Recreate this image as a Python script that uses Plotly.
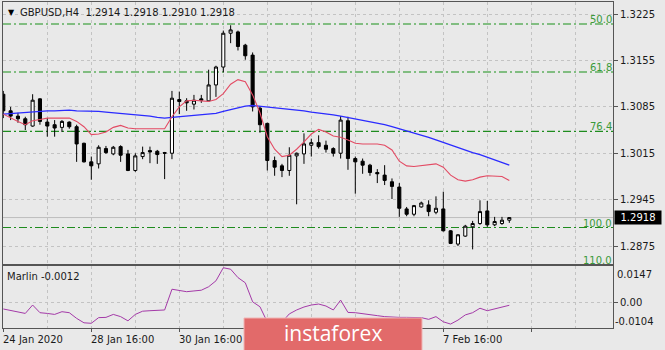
import plotly.graph_objects as go

# ---------------- data ----------------
bars = list(range(70))
opens = [1.3104,1.3079,1.3071,1.3067,1.3056,1.3097,1.3062,1.3058,1.3054,1.3062,
         1.3055,1.3030,1.3002,1.2999,1.3022,1.3014,1.3025,1.3014,1.2989,1.3010,
         1.3019,1.3018,1.3016,1.3015,1.3096,1.3094,1.3089,1.3097,1.3094,1.3118,
         1.3145,1.3196,1.3198,1.3178,1.3163,1.3083,1.3060,1.3004,1.2996,1.2989,
         1.3011,1.3014,1.3027,1.3031,1.3027,1.3022,1.3015,1.3064,1.3007,1.3003,
         1.2997,1.2986,1.2982,1.2972,1.2964,1.2931,1.2923,1.2934,1.2937,1.2926,
         1.2931,1.2898,1.2878,1.2890,1.2904,1.2909,1.2928,1.2907,1.2909,1.2914]
highs = [1.3109,1.3085,1.3076,1.3070,1.3104,1.3098,1.3068,1.3065,1.3065,1.3063,
         1.3058,1.3031,1.3010,1.3027,1.3026,1.3026,1.3027,1.3020,1.3015,1.3025,
         1.3025,1.3020,1.3017,1.3109,1.3108,1.3098,1.3103,1.3103,1.3141,1.3147,
         1.3200,1.3208,1.3200,1.3180,1.3167,1.3086,1.3061,1.3010,1.2999,1.3024,
         1.3016,1.3045,1.3037,1.3042,1.3034,1.3024,1.3071,1.3070,1.3010,1.3007,
         1.2999,1.2991,1.2997,1.2977,1.2970,1.2934,1.2937,1.2942,1.2944,1.2950,
         1.2957,1.2899,1.2893,1.2907,1.2913,1.2944,1.2943,1.2919,1.2919,1.2918]
lows = [1.3068,1.3065,1.3061,1.3050,1.3055,1.3058,1.3040,1.3040,1.3047,1.3052,
        1.3002,1.3001,1.2975,1.2992,1.3014,1.3012,1.3002,1.2988,1.2987,1.3006,
        1.3000,1.2999,1.2976,1.3006,1.3074,1.3079,1.3081,1.3091,1.3093,1.3100,
        1.3137,1.3181,1.3170,1.3156,1.3078,1.3046,1.2989,1.2981,1.2979,1.2981,
        1.2938,1.2999,1.3010,1.3022,1.3016,1.3010,1.3007,1.2990,1.2954,1.2984,
        1.2981,1.2970,1.2967,1.2946,1.2919,1.2920,1.2920,1.2933,1.2920,1.2923,
        1.2897,1.2878,1.2875,1.2889,1.2870,1.2907,1.2904,1.2905,1.2907,1.2910]
closes = [1.3079,1.3071,1.3067,1.3058,1.3095,1.3063,1.3056,1.3053,1.3063,1.3055,
          1.3029,1.3002,1.2996,1.3024,1.3016,1.3024,1.3012,1.2989,1.3011,1.3016,
          1.3017,1.3013,1.3015,1.3098,1.3093,1.3091,1.3095,1.3095,1.3118,1.3145,
          1.3196,1.3201,1.3176,1.3162,1.3085,1.3058,1.3004,1.2994,1.2989,1.3012,
          1.3015,1.3029,1.3031,1.3025,1.3021,1.3015,1.3065,1.3007,1.3002,1.2997,
          1.2986,1.2984,1.2974,1.2965,1.2932,1.2923,1.2936,1.2940,1.2927,1.2932,
          1.2898,1.2879,1.2892,1.2905,1.2909,1.2927,1.2907,1.2912,1.2914,1.2918]

ma_fast = [1.3074,1.3068,1.3063,1.3058,1.3064,1.3066,1.3068,1.3068,1.3068,1.3068,
           1.3063,1.3055,1.3043,1.3044,1.3047,1.3054,1.3057,1.3053,1.3052,1.3052,
           1.3052,1.3052,1.3052,1.3070,1.3085,1.3094,1.3095,1.3094,1.3093,1.3096,
           1.3105,1.3119,1.3126,1.3123,1.3103,1.3076,1.3040,1.3021,1.3010,1.3012,
           1.3021,1.3032,1.3044,1.3051,1.3047,1.3041,1.3039,1.3035,1.3030,1.3029,
           1.3029,1.3029,1.3027,1.3020,1.3003,1.2996,1.2995,1.2996,1.2998,1.2999,
           1.2994,1.2982,1.2975,1.2973,1.2975,1.2979,1.2981,1.2981,1.2980,1.2974]
ma_slow = [1.3074,1.3075,1.3076,1.3077,1.3078,1.3078,1.3079,1.3079,1.3080,1.3080,
           1.3079,1.3079,1.3078,1.3078,1.3077,1.3076,1.3076,1.3075,1.3074,1.3073,
           1.3071,1.3069,1.3068,1.3069,1.3070,1.3071,1.3072,1.3072,1.3074,1.3075,
           1.3078,1.3081,1.3084,1.3086,1.3087,1.3086,1.3085,1.3084,1.3083,1.3081,
           1.3080,1.3079,1.3077,1.3076,1.3075,1.3073,1.3071,1.3069,1.3067,1.3065,
           1.3063,1.3060,1.3058,1.3055,1.3052,1.3049,1.3045,1.3042,1.3039,1.3035,
           1.3031,1.3027,1.3023,1.3019,1.3016,1.3013,1.3009,1.3006,1.3002,1.2997]
marlin = [-0.0027,-0.0032,-0.0038,-0.0045,-0.0011,-0.0042,-0.0045,-0.0049,-0.0038,-0.0042,
          -0.0065,-0.0083,-0.0085,-0.0062,-0.0061,-0.0049,-0.0058,-0.0075,-0.0049,-0.0036,
          -0.0034,-0.0032,-0.0031,0.0053,0.0047,0.0043,0.0046,0.0049,0.0063,0.0087,
          0.0140,0.0134,0.0100,0.0079,0.0002,-0.0018,-0.0080,-0.0092,-0.0080,-0.0047,
          -0.0031,-0.0019,-0.0011,-0.0007,-0.0015,-0.0031,0.0009,-0.0041,-0.0042,-0.0047,
          -0.0051,-0.0054,-0.0058,-0.0061,-0.0061,-0.0061,-0.0062,-0.0062,-0.0069,-0.0058,
          -0.0079,-0.0088,-0.0072,-0.0051,-0.0042,-0.0024,-0.0034,-0.0027,-0.0020,-0.0012]

price_ticks = [1.3225, 1.3155, 1.3085, 1.3015, 1.2945, 1.2875]
price_tick_text = ["1.3225", "1.3155", "1.3085", "1.3015", "1.2945", "1.2875"]
fib_levels = [1.3210, 1.31375, 1.30479, 1.2903]
fib_labels = ["50.0", "61.8", "76.4", "100.0"]
date_tick_bars = [0, 12, 24, 60]
date_tick_text = ["24 Jan 2020", "28 Jan 16:00", "30 Jan 16:00", "7 Feb 16:00"]
last_price = 1.2918
last_price_text = "1.2918"
marlin_max, marlin_min = 0.0147, -0.0104
title_text = "GBPUSD,H4  1.2914 1.2918 1.2910 1.2918"
marlin_text = "Marlin -0.0012"

# ---------------- figure ----------------
BG = "#e9e9e9"
FONT = "DejaVu Sans"
TXT = "#1a1a1a"
GRID = "#c3c3c3"
FRAME = "#555555"

fig = go.Figure()
fig.add_trace(go.Candlestick(
    x=bars, open=opens, high=highs, low=lows, close=closes,
    increasing=dict(line=dict(color="#000000", width=1), fillcolor="#ffffff"),
    decreasing=dict(line=dict(color="#000000", width=1), fillcolor="#000000"),
    whiskerwidth=0, xaxis="x", yaxis="y", showlegend=False, hoverinfo="skip"))
fig.add_trace(go.Scatter(x=bars, y=ma_slow, mode="lines", line=dict(color="#2b2bff", width=1.3),
                         xaxis="x", yaxis="y", showlegend=False, hoverinfo="skip"))
fig.add_trace(go.Scatter(x=bars, y=ma_fast, mode="lines", line=dict(color="#e34a63", width=1.1),
                         xaxis="x", yaxis="y", showlegend=False, hoverinfo="skip"))
fig.add_trace(go.Scatter(x=bars, y=marlin, mode="lines", line=dict(color="#a43aa8", width=1),
                         xaxis="x2", yaxis="y2", showlegend=False, hoverinfo="skip"))

XR = [-0.04, 83.14]
grid_major = [0, 12, 24, 36, 48, 60, 72]
grid_minor = [6, 18, 30, 42, 54, 66, 78]

# plot area in pixels: x 3..613, y 2..328
def px_x(p):
    return (p - 3) / 610.0
def px_y(p):
    return (328 - p) / 326.0

fig.update_layout(
    width=665, height=350,
    margin=dict(l=3, r=52, t=2, b=22),
    paper_bgcolor=BG, plot_bgcolor=BG,
    font=dict(family=FONT, size=10, color=TXT),
    boxgap=0.4,
    xaxis=dict(domain=[0, 1], anchor="y", range=XR, rangeslider=dict(visible=False),
               tickvals=grid_major + grid_minor, showticklabels=False, ticks="",
               showgrid=True, gridcolor=GRID, griddash="3px,3px", gridwidth=1,
               showline=True, linecolor=FRAME, linewidth=1, mirror=True, zeroline=False),
    yaxis=dict(domain=[px_y(263.5), 1], anchor="x", side="right", range=[1.28487, 1.32431],
               tickvals=price_ticks, ticktext=price_tick_text, ticks="outside", ticklen=4,
               tickcolor=FRAME, showgrid=True, gridcolor=GRID, griddash="3px,3px",
               showline=True, linecolor=FRAME, linewidth=1, mirror=True, zeroline=False,
               tickfont=dict(family=FONT, size=10, color=TXT)),
    xaxis2=dict(domain=[0, 1], anchor="y2", range=XR, matches="x",
                tickvals=grid_major, showticklabels=False, ticks="outside", ticklen=3,
                tickcolor=FRAME, showgrid=True, gridcolor=GRID, griddash="3px,3px",
                minor=dict(tickvals=grid_minor, showgrid=True, gridcolor=GRID,
                           griddash="3px,3px", ticks=""),
                showline=True, linecolor=FRAME, linewidth=1, mirror=True, zeroline=False),
    yaxis2=dict(domain=[0, px_y(266)], anchor="x2", side="right", range=[marlin_min, marlin_max],
                tickvals=[0], ticktext=["0.00"], ticks="outside", ticklen=4, tickcolor=FRAME,
                showgrid=True, gridcolor=GRID, griddash="3px,3px",
                showline=True, linecolor=FRAME, linewidth=1, mirror=True, zeroline=False,
                tickfont=dict(family=FONT, size=10, color=TXT)),
)

shapes = []
# last price line
shapes.append(dict(type="line", xref="x domain", yref="y", x0=0, x1=1, y0=last_price, y1=last_price,
                   line=dict(color="#bdbdbd", width=1), layer="below"))
# fibonacci lines
fib_colors = ["#5fae5f", "#5fae5f", "#1e8c1e", "#1e8c1e"]
fib_widths = [1.4, 1.4, 1.1, 1.1]
for lvl, c, w in zip(fib_levels, fib_colors, fib_widths):
    shapes.append(dict(type="line", xref="x domain", yref="y", x0=0, x1=1, y0=lvl, y1=lvl,
                       line=dict(color=c, width=w, dash="8px,3px,2px,3px"), layer="below"))
# watermark
shapes.append(dict(type="rect", xref="paper", yref="paper",
                   x0=px_x(244), x1=px_x(422), y0=px_y(351), y1=px_y(318),
                   fillcolor="#e26a6a", line=dict(color="#f0b4b4", width=1), layer="above"))
fig.update_layout(shapes=shapes)

ann = []
for lvl, lab in zip(fib_levels, fib_labels):
    ann.append(dict(xref="x domain", yref="y", x=1, y=lvl, text=lab, showarrow=False,
                    xanchor="right", yanchor="bottom", xshift=1, yshift=-3,
                    font=dict(family=FONT, size=10, color="#3a9a3a")))
ann.append(dict(xref="x domain", yref="y domain", x=1, y=0, text="110.0", showarrow=False,
                xanchor="right", yanchor="bottom", xshift=1, yshift=-4,
                font=dict(family=FONT, size=10, color="#3a9a3a")))
# last price tag
ann.append(dict(xref="paper", yref="y", x=1, y=last_price, text=last_price_text,
                showarrow=False, xanchor="left", xshift=1, bgcolor="#000000", borderpad=1,
                width=44, align="center",
                font=dict(family=FONT, size=10, color="#ffffff")))
# title
ann.append(dict(xref="paper", yref="paper", x=px_x(6), y=px_y(12), text="▼", showarrow=False,
                xanchor="left", yanchor="middle", font=dict(family=FONT, size=8, color="#000000")))
ann.append(dict(xref="paper", yref="paper", x=px_x(18), y=px_y(12), text=title_text, showarrow=False,
                xanchor="left", yanchor="middle", font=dict(family=FONT, size=10, color=TXT)))
ann.append(dict(xref="paper", yref="paper", x=px_x(5), y=px_y(276), text=marlin_text, showarrow=False,
                xanchor="left", yanchor="middle", font=dict(family=FONT, size=10, color=TXT)))
# marlin extreme labels
ann.append(dict(xref="paper", yref="paper", x=1, y=px_y(274), text=f"{marlin_max:.4f}", showarrow=False,
                xanchor="left", yanchor="middle", xshift=2, font=dict(family=FONT, size=10, color=TXT)))
ann.append(dict(xref="paper", yref="paper", x=1, y=px_y(321), text=f"{marlin_min:.4f}", showarrow=False,
                xanchor="left", yanchor="middle", xshift=0, font=dict(family=FONT, size=10, color=TXT)))
# date labels
for b, t in zip(date_tick_bars, date_tick_text):
    ann.append(dict(xref="x2", yref="paper", x=b, y=px_y(339), text=t, showarrow=False,
                    xanchor="left", yanchor="middle", xshift=-2, font=dict(family=FONT, size=10, color=TXT)))
# watermark text
ann.append(dict(xref="paper", yref="paper", x=px_x(333), y=px_y(333), text="instaforex", showarrow=False,
                xanchor="center", yanchor="middle", font=dict(family="Open Sans", size=21, color="#ffffff")))
fig.update_layout(annotations=ann)

fig.write_html("out.html")
